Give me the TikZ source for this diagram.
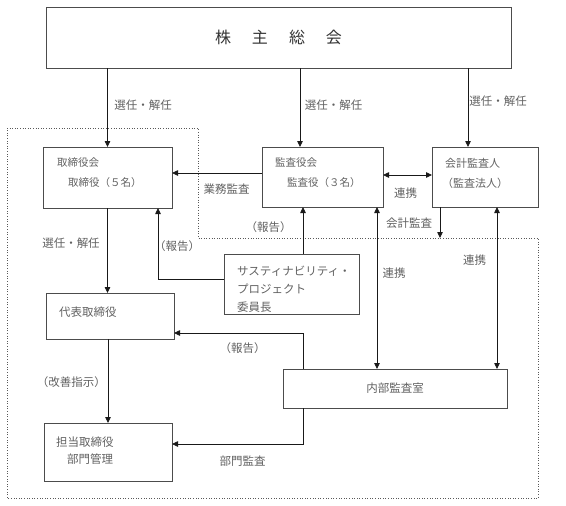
\documentclass[tikz,border=0pt]{standalone}
\usepackage{fontspec}
\setmainfont{Noto Sans CJK JP}
\usetikzlibrary{arrows.meta}
\usetikzlibrary{calc,positioning}

\begin{document}
\begin{tikzpicture}[x=1pt, y=-1pt, >={Triangle[length=6pt,width=5.5pt]},
  box/.style={draw=black!70, line width=0.9pt, inner sep=0pt, outer sep=0pt},
  txt/.style={text=black!62, inner sep=0pt, font=\fontsize{11.5}{18}\selectfont},
  boxtxt/.style={txt, anchor=west, align=left},
  conn/.style={line width=0.8pt, black!90},
  bound/.style={dotted, line width=0.6pt, black!65}]

    \useasboundingbox (0,0) rectangle (566,506);

    % boxes
    \node[box, minimum width=465pt, minimum height=61pt, text=black!80,
      font=\fontsize{16}{16}\selectfont] (kabu) at (278.5,37.5)
      {株\hspace{21pt}主\hspace{21pt}総\hspace{21pt}会};
    \node[box, minimum width=129pt, minimum height=61pt] (tor) at (107.5,177.5) {};
    \node[box, minimum width=121pt, minimum height=60pt] (kansa) at (322.5,177) {};
    \node[box, minimum width=106pt, minimum height=60pt] (kaikei) at (485,177) {};
    \node[box, minimum width=135pt, minimum height=60pt] (sus) at (291.5,284) {};
    \node[box, minimum width=128pt, minimum height=46pt] (daihyo) at (110,316) {};
    \node[box, minimum width=224pt, minimum height=39pt, text=black!62,
      font=\fontsize{11.5}{18}\selectfont] (naibu) at (395,388.5) {内部監査室};
    \node[box, minimum width=128pt, minimum height=58pt] (tanto) at (108,452) {};

    % texts in the boxes
    \node[boxtxt, font=\fontsize{10.5}{20}\selectfont] (tor-t) at ([xshift=14pt,yshift=4.5pt]tor.west)
      {取締役会\\\hspace{11pt}取締役（５名）};
    \node[boxtxt, font=\fontsize{10.5}{20}\selectfont] (kansa-t) at ([xshift=13pt,yshift=4pt]kansa.west)
      {監査役会\\\hspace{12pt}監査役（３名）};
    \node[boxtxt, font=\fontsize{11}{20}\selectfont] (kaikei-t) at ([xshift=13pt,yshift=4pt]kaikei.west)
      {会計監査人\\\hspace{-3pt}（監査法人）};
    \node[boxtxt] (sus-t) at ([xshift=13pt,yshift=-5pt]sus.west)
      {サスティナビリティ・\\プロジェクト\\委員長};
    \node[boxtxt] (daihyo-t) at ([xshift=13pt,yshift=4pt]daihyo.west) {代表取締役};
    \node[boxtxt, font=\fontsize{11.5}{17}\selectfont] (tanto-t) at ([xshift=12pt,yshift=1.5pt]tanto.west)
      {担当取締役\\\hspace{11pt}部門管理};

    % boundary
    \draw[bound] (7,128) -- (198,128) -- (198,238) -- (538,238) -- (538,498) -- (7,498) -- cycle;

    % connectors
    \coordinate (kansa-in) at ([xshift=-22.5pt]kansa.north);
    \coordinate (kaikei-in) at ([xshift=-17pt]kaikei.north);
    \draw[conn, ->] (kabu.south -| tor.north) -- (tor.north);
    \draw[conn, ->] (kabu.south -| kansa-in) -- (kansa-in);
    \draw[conn, ->] (kabu.south -| kaikei-in) -- (kaikei-in);

    \coordinate (audit-out) at ([yshift=4pt]kansa.west);
    \draw[conn, ->] (audit-out) -- (audit-out -| tor.east);
    \coordinate (link-a) at ([yshift=2pt]kansa.east);
    \draw[conn, <->] (link-a) -- (link-a -| kaikei.west);
    \coordinate (kaikei-out) at ([xshift=8pt]kaikei.south west);
    \coordinate (kaikei-end) at (440,238);
    \draw[conn, ->] (kaikei-out) -- (kaikei-end);

    \coordinate (sus-up) at ([xshift=11.5pt]sus.north);
    \draw[conn, ->] (sus-up) -- (sus-up |- kansa.south);
    \coordinate (sus-out) at ([yshift=5pt]sus.west);
    \coordinate (tor-in) at ([xshift=-14pt]tor.south east);
    \draw[conn, ->] (sus-out) -| (tor-in);

    \coordinate (kansa-link) at ([xshift=-6pt]kansa.south east);
    \draw[conn, <->] (kansa-link) -- (kansa-link |- naibu.north);
    \coordinate (kaikei-link) at ([xshift=12pt]kaikei.south);
    \draw[conn, <->] (kaikei-link) -- (kaikei-link |- naibu.north);

    \draw[conn, ->] (tor.south) -- (tor.south |- daihyo.north);
    \draw[conn, ->] (daihyo.south -| tanto.north) -- (tanto.north);

    \coordinate (naibu-rep) at ([xshift=20pt]naibu.north west);
    \coordinate (daihyo-in) at ([yshift=-17pt]daihyo.east);
    \draw[conn, ->] (naibu-rep) |- (daihyo-in);
    \coordinate (naibu-aud) at ([xshift=20pt]naibu.south west);
    \coordinate (tanto-in) at ([yshift=8pt]tanto.east);
    \draw[conn, ->] (naibu-aud) |- (tanto-in);

    % labels
    \node[txt] (sennin-a) at (143,105) {選任・解任};
    \node[txt] (sennin-b) at (333.5,105) {選任・解任};
    \node[txt] (sennin-c) at (498,101) {選任・解任};
    \node[txt] (gyomu) at (226.5,189) {業務監査};
    \node[txt] (renkei-a) at (405.5,193) {連携};
    \node[txt] (kaikei-l) at (409,223) {会計監査};
    \node[txt] (hokoku-a) at (268.5,227) {（報告）};
    \node[txt] (hokoku-b) at (177,246) {（報告）};
    \node[txt] (renkei-b) at (394,273) {連携};
    \node[txt] (renkei-c) at (474.5,260) {連携};
    \node[txt] (sennin-d) at (71,243) {選任・解任};
    \node[txt] (hokoku-c) at (242.5,348) {（報告）};
    \node[txt] (kaizen) at (71.5,382) {（改善指示）};
    \node[txt] (bumon) at (242.5,461) {部門監査};

\end{tikzpicture}
\end{document}
